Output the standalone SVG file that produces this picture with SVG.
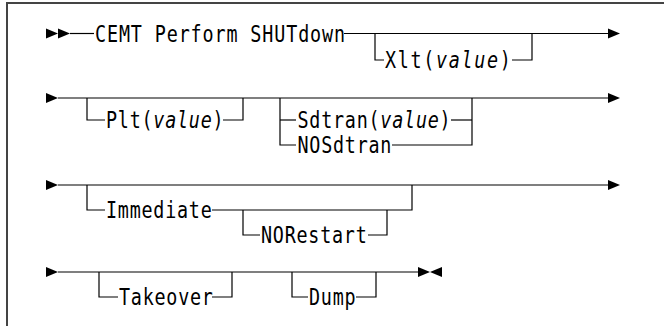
<svg xmlns="http://www.w3.org/2000/svg" width="664" height="326" viewBox="0 0 664 326">
<style>
.t{font-family:"DejaVu Sans Mono","Liberation Mono",monospace;font-size:23px;letter-spacing:0.96px;fill:#000}
.w{letter-spacing:2.1px}
.i{font-style:italic}
.c{fill:none;stroke:#000;stroke-width:1.2}
.a{fill:#000}
.f{fill:none;stroke:#444;stroke-width:2}
</style>
<rect width="664" height="326" fill="#fff"/>
<path class="f" d="M7,326 V3 H664"/>
<g id="connectors">
<polygon class="a" points="46,28.5 58,33.5 46,38.5"/>
<polygon class="a" points="58,28.5 70,33.5 58,38.5"/>
<path class="c" d="M70,33.5 H94"/>
<path class="c" d="M344,33.5 H608"/>
<polygon class="a" points="608,28.5 620,33.5 608,38.5"/>
<path class="c" d="M375,33.5 V60 H384"/>
<path class="c" d="M512,60 H532 V33.5"/>
<polygon class="a" points="46,93 58,98 46,103"/>
<path class="c" d="M58,98 H608"/>
<polygon class="a" points="608,93 620,98 608,103"/>
<path class="c" d="M87,98 V120 H105"/>
<path class="c" d="M223,120 H243 V98"/>
<path class="c" d="M280,98 V145 H296"/>
<path class="c" d="M280,120 H296"/>
<path class="c" d="M451,120 H472"/>
<path class="c" d="M392,145 H472 V98"/>
<polygon class="a" points="46,180 58,185 46,190"/>
<path class="c" d="M58,185 H608"/>
<polygon class="a" points="608,180 620,185 608,190"/>
<path class="c" d="M87,185 V210 H105"/>
<path class="c" d="M212,210 H412 V185"/>
<path class="c" d="M243,210 V235 H260"/>
<path class="c" d="M368,235 H387 V210"/>
<polygon class="a" points="46,267 58,272 46,277"/>
<path class="c" d="M58,272 H418"/>
<polygon class="a" points="418,267 430,272 418,277"/>
<polygon class="a" points="442,267 430,272 442,277"/>
<path class="c" d="M99,272 V297 H118"/>
<path class="c" d="M212,297 H232 V272"/>
<path class="c" d="M292,272 V297 H308"/>
<path class="c" d="M356,297 H376 V272"/>
</g>
<g id="n-cemt"><text class="t" style="letter-spacing:1.1px" transform="translate(95,41.5) scale(0.8,1)">CEMT Perform SHUTdown</text></g>
<g id="n-xlt"><text class="t w" transform="translate(385,68) scale(0.8,1)">Xlt(<tspan class="i">value</tspan>)</text></g>
<g id="n-plt"><text class="t" transform="translate(106,128) scale(0.8,1)">Plt(<tspan class="i">value</tspan>)</text></g>
<g id="n-sdtran"><text class="t" transform="translate(297.5,128) scale(0.8,1)">Sdtran(<tspan class="i">value</tspan>)</text></g>
<g id="n-nosdtran"><text class="t" transform="translate(297.5,153) scale(0.8,1)">NOSdtran</text></g>
<g id="n-immediate"><text class="t" transform="translate(106,218) scale(0.8,1)">Immediate</text></g>
<g id="n-norestart"><text class="t" transform="translate(261,243) scale(0.8,1)">NORestart</text></g>
<g id="n-takeover"><text class="t" transform="translate(119,305) scale(0.8,1)">Takeover</text></g>
<g id="n-dump"><text class="t" transform="translate(309,305) scale(0.8,1)">Dump</text></g>
</svg>
